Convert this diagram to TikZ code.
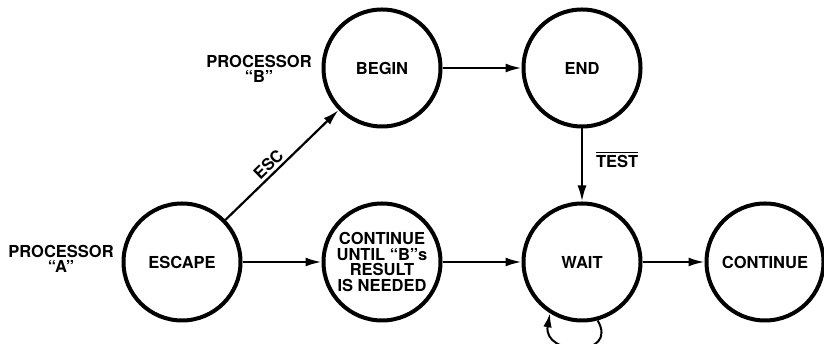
\documentclass[tikz,border=0pt]{standalone}
\usepackage{fontspec}
\setmainfont{TeX Gyre Heros}
\usetikzlibrary{arrows.meta}
\begin{document}
\begin{tikzpicture}[x=1pt,y=1pt,
  state/.style={circle,draw,line width=4pt,minimum size=117pt,inner sep=0pt,align=center,
    font=\fontsize{16.5}{15.6}\selectfont\bfseries},
  plain/.style={align=center,inner sep=0pt,font=\fontsize{16.5}{15}\selectfont\bfseries},
  arr/.style={line width=2.2pt,-{Latex[length=16pt,width=9pt]}},
  lbl/.style={inner sep=0pt,font=\fontsize{16.5}{16}\selectfont\bfseries}]
\useasboundingbox (0,0) rectangle (824,344);
\node[state] (esc) at (182,82) {ESCAPE};
\node[state] (cont) at (382,82) {CONTINUE\\UNTIL ``B''s\\RESULT\\IS NEEDED};
\node[state] (wait) at (582,82) {WAIT};
\node[state] (cnt) at (765,82) {CONTINUE};
\node[state] (begin) at (382,276) {BEGIN};
\node[state] (end) at (582,276) {END};
\node[plain] (pa) at (61,85) {PROCESSOR\\``A''};
\node[plain] (pb) at (259,275.5) {PROCESSOR\\``B''};
\draw[arr] (esc) -- (cont);
\draw[arr] (cont) -- (wait);
\draw[arr] (wait) -- (cnt);
\draw[arr] (begin) -- (end);
\draw[arr] (esc) -- node[lbl,pos=0.44,sloped,anchor=south,yshift=2.5pt] {ESC} (begin);
\draw[arr] (end) -- node[lbl,pos=0.43,anchor=west,xshift=13pt] {\vbox{\hrule height1.4pt\kern2.2pt\hbox{TEST}}} (wait);
\draw[arr,line width=2pt,-{Latex[length=14pt,width=8.5pt]}] (wait.-75) to[out=-60,in=-100,looseness=2.3] (wait.-122);
\end{tikzpicture}
\end{document}
